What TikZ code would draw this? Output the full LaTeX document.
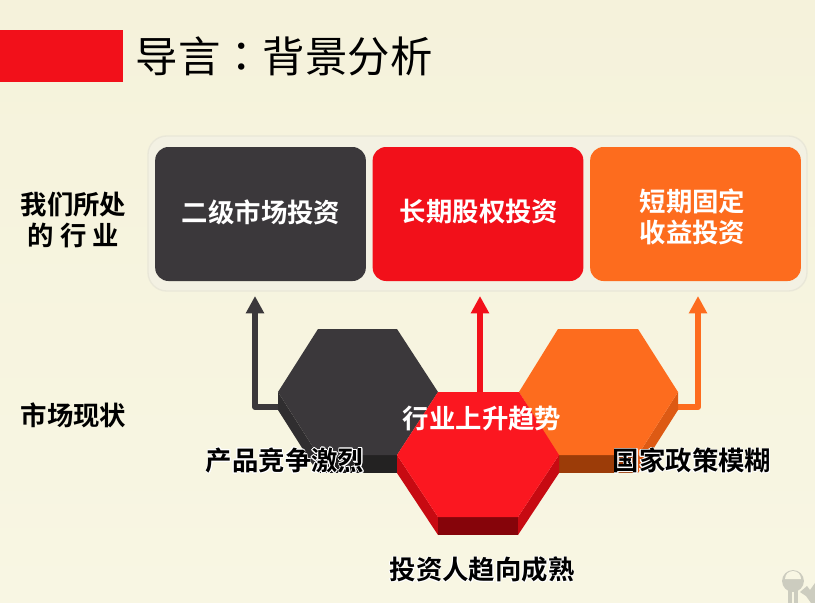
\documentclass[tikz,border=0pt]{standalone}
\usepackage{fontspec}
\usepackage{contour}
\setmainfont{Noto Sans CJK SC}[BoldFont=* Bold]
\newfontfamily\colonfont{Noto Sans CJK TC}
\usetikzlibrary{arrows.meta}
\contourlength{0.5pt}
\tikzset{
    boxnode/.style={rounded corners=10pt, minimum width=158pt, minimum height=100.5pt, inner sep=0pt},
    labelnode/.style={align=center, font=\fontsize{19.8}{23.4}\selectfont\bfseries},
    uparrow/.style={line width=4.5pt, -{Triangle[width=13pt,length=13pt]}, line join=round},
}
\begin{document}
\begin{tikzpicture}[x=0.75pt,y=-0.75pt]
    % Define colors
    \definecolor{bgcolor}{HTML}{F8F6E3}
    \definecolor{bgedge}{HTML}{F5F2DB}
    \definecolor{panelcolor}{HTML}{F3F1E3}
    \definecolor{paneledge}{HTML}{E9E7D8}
    \definecolor{darkcolor}{HTML}{3B383B}
    \definecolor{darkside}{HTML}{302E30}
    \definecolor{darkfoot}{HTML}{232222}
    \definecolor{redcolor}{HTML}{F2101A}
    \definecolor{hexred}{HTML}{FB1720}
    \definecolor{redside}{HTML}{C70A12}
    \definecolor{redfoot}{HTML}{86040A}
    \definecolor{orangecolor}{HTML}{FD6C1E}
    \definecolor{orangeside}{HTML}{DD5A14}
    \definecolor{orangefoot}{HTML}{9C3C08}
    \definecolor{keycolor}{HTML}{CCCCBF}

    % Draw background
    \path[use as bounding box, top color=bgedge, bottom color=bgcolor] (0,0) rectangle (815,603);
    \fill[redcolor] (0,30) rectangle (123,82);
    \node[anchor=west, font=\fontsize{31.8}{36}\selectfont] (title) at (131,56) {导言{\colonfont ：}背景分析};

    % Draw panel and boxes
    \filldraw[fill=panelcolor, draw=paneledge, line width=1pt, rounded corners=14pt] (148,136) rectangle (807,291);
    \node[boxnode, fill=darkcolor] (second) at (260.5,214) {};
    \node[boxnode, fill=redcolor] (equity) at (478,214) {};
    \node[boxnode, fill=orangecolor] (fixed) at (695.5,214) {};
    \node[labelnode, text=white] (secondtext) at (261,212) {二级市场投资};
    \node[labelnode, text=white] (equitytext) at (479,212) {长期股权投资};
    \node[labelnode, text=white] (fixedtext) at (692.5,216.5) {短期固定\\收益投资};

    % Row labels
    \node[labelnode] (industry) at (73.5,220) {我们所处\\的 行 业};
    \node[labelnode] (market) at (73.5,415) {市场现状};

    % Arrow ends
    \coordinate (darkstart) at (282,407);
    \coordinate (darkend) at (255,296);
    \coordinate (redstart) at (480,395);
    \coordinate (redend) at (480,296);
    \coordinate (orangestart) at (674,407);
    \coordinate (orangeend) at (698,296);

    % Draw arrows
    \draw[uparrow, darkcolor] (darkstart) -| (darkend);
    \draw[uparrow, redcolor] (redstart) -- (redend);
    \draw[uparrow, orangecolor] (orangestart) -| (orangeend);

    % Draw dark hexagon
    \fill[darkside] (278,392) -- (318,455) -- (318,473) -- (278,410) -- cycle;
    \fill[darkfoot] (318,455) rectangle (397,473);
    \fill[darkcolor] (318,329) -- (397,329) -- (438,392) -- (397,455) -- (318,455) -- (278,392) -- cycle;

    % Draw orange hexagon
    \fill[orangeside] (678,392) -- (638,455) -- (638,473) -- (678,410) -- cycle;
    \fill[orangefoot] (558,455) rectangle (638,473);
    \fill[orangecolor] (558,329) -- (638,329) -- (678,392) -- (638,455) -- (558,455) -- (519,392) -- cycle;

    % Draw red hexagon
    \fill[redside] (397,455) -- (438,517) -- (438,535) -- (397,473) -- cycle;
    \fill[redside] (559,455) -- (518,517) -- (518,535) -- (559,473) -- cycle;
    \fill[redfoot] (438,517) rectangle (518,535);
    \fill[hexred] (438,392) -- (519,392) -- (559,455) -- (518,517) -- (438,517) -- (397,455) -- cycle;

    % Hexagon labels
    \node[labelnode, text=white] (trend) at (482,419) {行业上升趋势};
    \node[labelnode] (compete) at (285,461) {\contour{white}{产品竞争激烈}};
    \node[labelnode] (policy) at (692,461) {\contour{white}{国家政策模糊}};
    \node[labelnode] (mature) at (482,570) {\contour{white}{投资人趋向成熟}};

    % Draw keys
    \fill[keycolor] (793,581) circle (8.2pt);
    \fill[bgcolor] (785,579) arc (180:0:6pt) -- cycle;
    \fill[keycolor] (788,590) rectangle (791.5,603);
    \fill[keycolor] (794,590) rectangle (797.5,603);
    \fill[keycolor] (800,592) -- (807,586) -- (810,590) -- (815,583) -- (815,603) -- (811,603) -- (806,596) -- cycle;
\end{tikzpicture}
\end{document}
